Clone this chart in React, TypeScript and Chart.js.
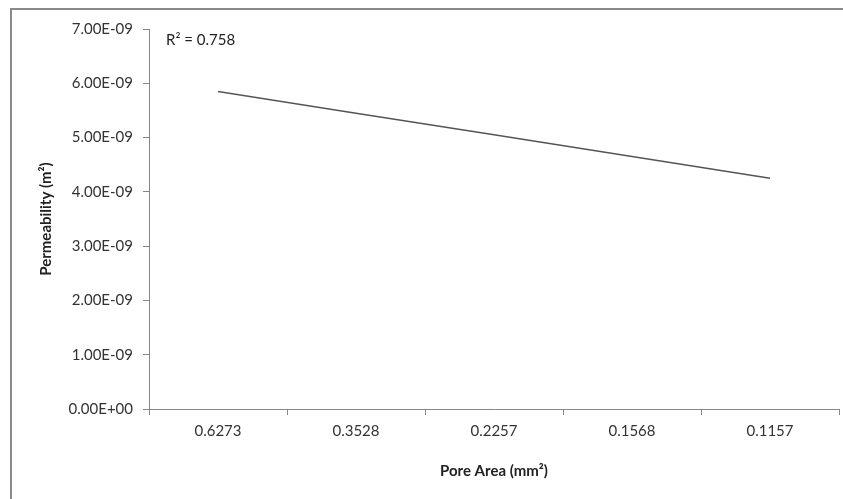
import React, { useEffect, useRef } from "react";
import { Chart, registerables } from "chart.js";
Chart.register(...registerables);

const categories = ["0.6273", "0.3528", "0.2257", "0.1568", "0.1157"];
const permeability = [5.85e-9, 5.45e-9, 5.05e-9, 4.65e-9, 4.25e-9];
const yTicks = [0, 1e-9, 2e-9, 3e-9, 4e-9, 5e-9, 6e-9, 7e-9];
const rSquaredLabel = "R² = 0.758";

const FONT = "Lato, 'Open Sans', sans-serif";

function fmt(v: number): string {
  if (v === 0) return "0.00E+00";
  const exp = Math.floor(Math.log10(Math.abs(v)) + 1e-9);
  const mant = v / Math.pow(10, exp);
  const sign = exp < 0 ? "-" : "+";
  const e = Math.abs(exp).toString().padStart(2, "0");
  return mant.toFixed(2) + "E" + sign + e;
}

const annotationPlugin = {
  id: "rsq",
  beforeDraw(chart: any) {
    const ctx = chart.ctx;
    ctx.save();
    ctx.fillStyle = "#fff";
    ctx.fillRect(0, 0, chart.width, chart.height);
    ctx.strokeStyle = "#8a8a8a";
    ctx.lineWidth = 2;
    ctx.strokeRect(11, 9, chart.width + 40, chart.height + 40);
    ctx.restore();
  },
  afterDraw(chart: any) {
    const ctx = chart.ctx;
    const area = chart.chartArea;
    ctx.save();
    ctx.font = `15px ${FONT}`;
    ctx.fillStyle = "#222";
    ctx.textBaseline = "middle";
    ctx.textAlign = "left";
    ctx.fillText(rSquaredLabel, area.left + 17, area.top + 11);
    ctx.restore();
  },
};

export default function App() {
  const ref = useRef<HTMLCanvasElement | null>(null);
  useEffect(() => {
    document.body.style.margin = "0";
    document.body.style.overflow = "hidden";
    if (!ref.current) return;
    const chart = new Chart(ref.current, {
      type: "line",
      data: {
        labels: categories,
        datasets: [
          {
            data: permeability,
            borderColor: "#555555",
            borderWidth: 1.5,
            pointRadius: 0,
            fill: false,
            tension: 0,
          },
        ],
      },
      options: {
        animation: false,
        responsive: false,
        layout: { padding: { left: 20, right: 4, top: 29, bottom: 12 } },
        plugins: { legend: { display: false }, tooltip: { enabled: false } },
        scales: {
          x: {
            type: "category",
            offset: true,
            grid: {
              display: true,
              offset: true,
              drawOnChartArea: false,
              drawTicks: true,
              tickLength: 6,
              color: "#868686",
            },
            border: { display: true, color: "#868686", width: 1 },
            ticks: { color: "#333", font: { family: FONT, size: 15 }, padding: 7, maxRotation: 0 },
            title: {
              display: true,
              text: "Pore Area (mm²)",
              color: "#222",
              font: { family: FONT, size: 15, weight: "bold" },
              padding: { top: 4, bottom: 7 },
            },
            afterFit(scale: any) {
              scale.height = 78;
            },
          },
          y: {
            min: 0,
            max: 7e-9,
            afterBuildTicks(scale: any) {
              scale.ticks = yTicks.map((v) => ({ value: v }));
            },
            grid: {
              display: true,
              drawOnChartArea: false,
              drawTicks: true,
              tickLength: 6,
              color: "#868686",
            },
            border: { display: true, color: "#868686", width: 1 },
            ticks: {
              color: "#333",
              font: { family: FONT, size: 15 },
              padding: 10,
              callback: (v: any) => fmt(Number(v)),
            },
            title: {
              display: true,
              text: "Permeability (m²)",
              color: "#222",
              font: { family: FONT, size: 15, weight: "bold" },
              padding: { top: 17, bottom: 4 },
            },
            afterFit(scale: any) {
              scale.width = 129;
            },
          },
        },
      },
      plugins: [annotationPlugin],
    } as any);
    return () => chart.destroy();
  }, []);

  return (
    <div style={{ width: 843, height: 499, background: "#fff" }}>
      <canvas ref={ref} width={843} height={499} style={{ display: "block" }} />
    </div>
  );
}
